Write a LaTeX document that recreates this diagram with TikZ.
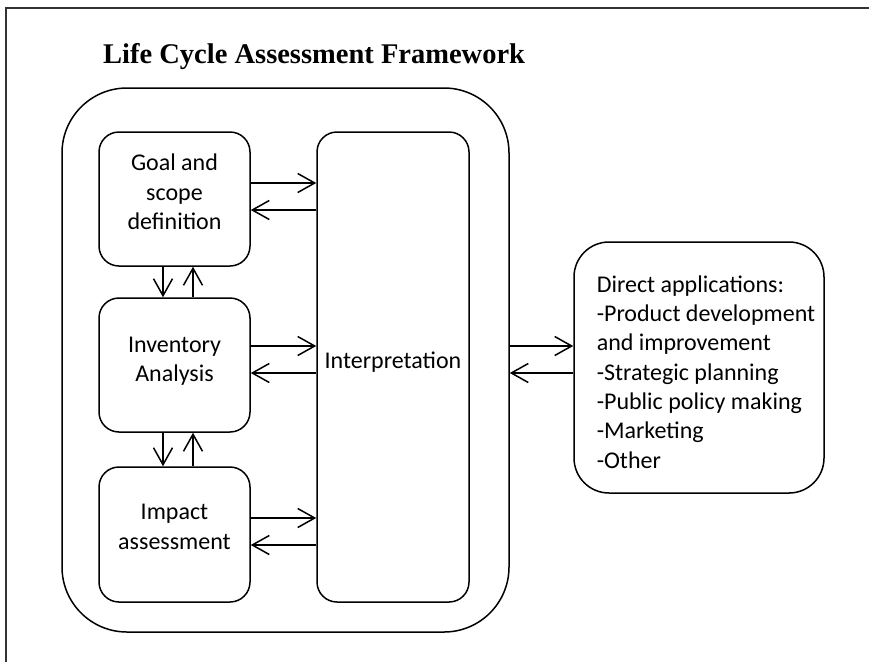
\documentclass[tikz,border=0pt]{standalone}
\usepackage{fontspec}
\setmainfont{Liberation Serif}
\newfontfamily\bodyfont{Carlito}
\usetikzlibrary{arrows.meta}

\tikzset{
  stage/.style={draw, line width=1.5pt, rounded corners=20pt, inner sep=0pt},
  frame/.style={draw, line width=1.5pt, rounded corners=65pt, inner sep=0pt},
  appbox/.style={draw, line width=1.5pt, rounded corners=35pt, inner sep=0pt},
  label/.style={inner sep=0pt, align=center, font=\bodyfont\fontsize{24}{29.3}\selectfont},
  flow/.style={line width=1.5pt, -{Straight Barb[length=17pt,width=19pt,line width=1.5pt]}},
}

\begin{document}
\begin{tikzpicture}[x=1pt,y=-1pt]
  \useasboundingbox (0,0) rectangle (869,662);

  % page border (top and left edges)
  \coordinate (pageTL) at (6,8);
  \coordinate (pageTR) at (869,8);
  \coordinate (pageBL) at (6,662);
  \draw[line width=2pt, black!80] (pageTR) -- (pageTL) -- (pageBL);

  % title
  \node[anchor=base west, inner sep=0pt, font=\bfseries\fontsize{28.5}{34}\selectfont]
    (title) at (103,63) {Life Cycle Assessment Framework};

  % framework boxes
  \node[frame, minimum width=447pt, minimum height=544pt] (outer) at (285.5,360) {};
  \node[stage, minimum width=151pt, minimum height=134pt] (goal) at (174.5,199) {};
  \node[stage, minimum width=151pt, minimum height=134pt] (inv) at (174.5,365) {};
  \node[stage, minimum width=151pt, minimum height=135pt] (imp) at (174.5,534.5) {};
  \node[stage, minimum width=152pt, minimum height=470pt] (interp) at (393,367) {};
  \node[appbox, minimum width=250pt, minimum height=251pt] (apps) at (699,367.5) {};

  % box texts
  \node[label] (goalText) at (174.5,192) {Goal and\\scope\\definition};
  \node[label] (invText) at (174.5,361) {Inventory\\Analysis};
  \node[label] (impText) at (174.5,527) {Impact\\assessment};
  \node[label] (interpText) at (393,362) {Interpretation};
  \node[label, align=left] (appsText) at (706,372)
    {Direct applications:\\-Product development\\and improvement\\-Strategic planning\\-Public policy making\\-Marketing\\-Other};

  % stage <-> interpretation
  \draw[flow] (goal.east |- 0,183) -- (interp.west |- 0,183);
  \draw[flow] (interp.west |- 0,210) -- (goal.east |- 0,210);
  \draw[flow] (inv.east |- 0,346) -- (interp.west |- 0,346);
  \draw[flow] (interp.west |- 0,373) -- (inv.east |- 0,373);
  \draw[flow] (imp.east |- 0,518) -- (interp.west |- 0,518);
  \draw[flow] (interp.west |- 0,545) -- (imp.east |- 0,545);

  % between stages
  \draw[flow] (goal.south -| 163,0) -- (inv.north -| 163,0);
  \draw[flow] (inv.north -| 193,0) -- (goal.south -| 193,0);
  \draw[flow] (inv.south -| 163,0) -- (imp.north -| 163,0);
  \draw[flow] (imp.north -| 193,0) -- (inv.south -| 193,0);

  % framework <-> applications
  \draw[flow] (outer.east |- 0,346) -- (apps.west |- 0,346);
  \draw[flow] (apps.west |- 0,373) -- (outer.east |- 0,373);
\end{tikzpicture}
\end{document}
